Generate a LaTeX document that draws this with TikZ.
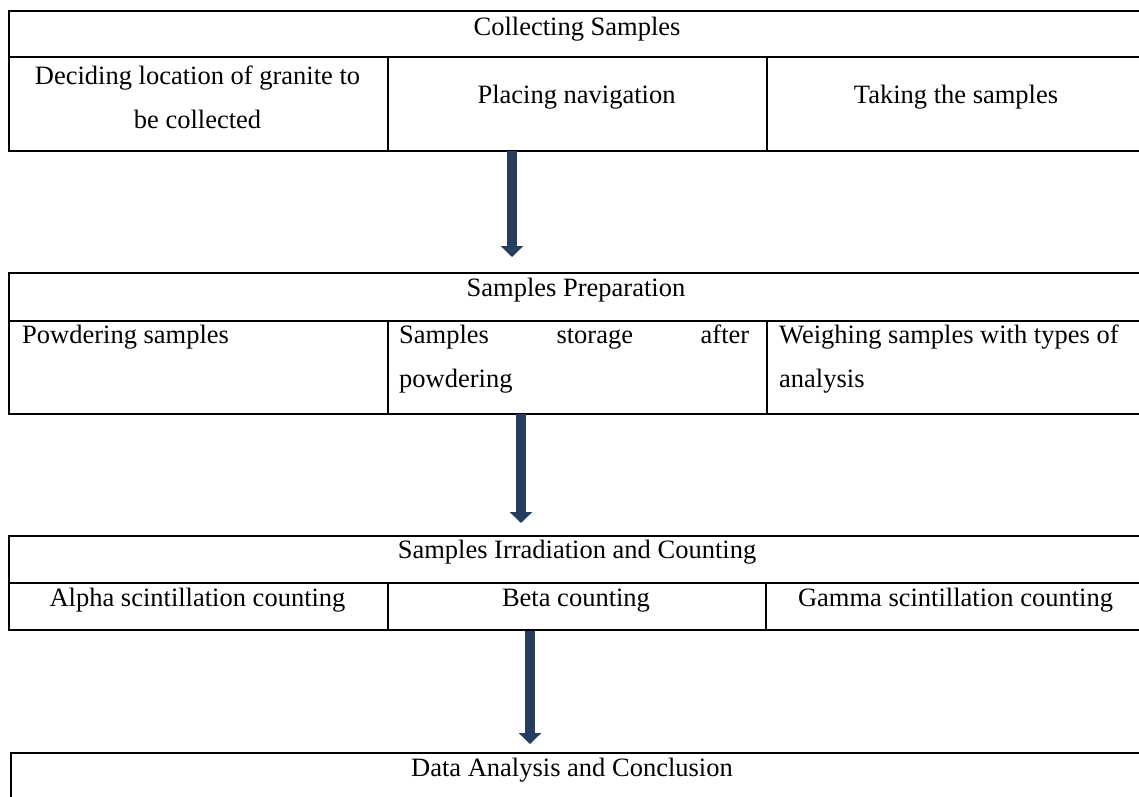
\documentclass[tikz,border=0pt]{standalone}
\usepackage{fontspec}
\setmainfont{Liberation Serif}
\usetikzlibrary{arrows.meta}
\definecolor{arrowblue}{RGB}{37,61,94}
\tikzset{
  cell/.style={draw=black, line width=1.8pt, inner sep=0pt, anchor=north west},
  txt/.style={inner sep=0pt, anchor=base, font=\fontsize{26.5}{44}\selectfont},
  txtl/.style={txt, anchor=base west},
  flowarrow/.style={draw=arrowblue, line width=10.5pt, -{Triangle[width=22pt,length=11pt]}, arrowblue}
}
\begin{document}
\begin{tikzpicture}[x=1pt,y=-1pt]
\useasboundingbox (0,0) rectangle (1139,796);
% Table 1
\node[cell, minimum width=1138pt, minimum height=46pt] (t1h) at (8,10) {};
\node[cell, minimum width=379pt, minimum height=94pt] (t1a) at (8,56) {};
\node[cell, minimum width=379pt, minimum height=94pt] (t1b) at (387,56) {};
\node[cell, minimum width=380pt, minimum height=94pt] (t1c) at (766,56) {};
\node[txt] (t1ht) at (577,35) {Collecting Samples};
\node[txt] (t1at1) at (197.5,84) {Deciding location of granite to};
\node[txt] (t1at2) at (197.5,128) {be collected};
\node[txt] (t1bt) at (576.5,103) {Placing navigation};
\node[txt] (t1ct) at (956,103) {Taking the samples};
% Table 2
\node[cell, minimum width=1138pt, minimum height=48pt] (t2h) at (8,272) {};
\node[cell, minimum width=379pt, minimum height=93pt] (t2a) at (8,320) {};
\node[cell, minimum width=379pt, minimum height=93pt] (t2b) at (387,320) {};
\node[cell, minimum width=380pt, minimum height=93pt] (t2c) at (766,320) {};
\node[txt] (t2ht) at (576,296) {Samples Preparation};
\node[txtl] (t2at) at (22,343) {Powdering samples};
\node[txtl] (t2bt1) at (399,343) {\hbox to 350pt{Samples\hfill storage\hfill after}};
\node[txtl] (t2bt2) at (399,387) {powdering};
\node[txtl] (t2ct1) at (779,343) {Weighing samples with types of};
\node[txtl] (t2ct2) at (779,387) {analysis};
% Table 3
\node[cell, minimum width=1138pt, minimum height=47pt] (t3h) at (8,535) {};
\node[cell, minimum width=379pt, minimum height=47pt] (t3a) at (8,582) {};
\node[cell, minimum width=378pt, minimum height=47pt] (t3b) at (387,582) {};
\node[cell, minimum width=381pt, minimum height=47pt] (t3c) at (765,582) {};
\node[txt] (t3ht) at (577,558) {Samples Irradiation and Counting};
\node[txt] (t3at) at (197.5,606) {Alpha scintillation counting};
\node[txt] (t3bt) at (576,606) {Beta counting};
\node[txt] (t3ct) at (955.5,606) {Gamma scintillation counting};
% Table 4
\node[cell, minimum width=1150pt, minimum height=80pt] (t4) at (10,752) {};
\node[txt] (t4t) at (572,776) {Data Analysis and Conclusion};
% Arrows
\coordinate (a1s) at (512,151);
\coordinate (a1e) at (512,257);
\coordinate (a2s) at (521,414);
\coordinate (a2e) at (521,523);
\coordinate (a3s) at (530,631);
\coordinate (a3e) at (530,744);
\draw[flowarrow] (a1s) -- (a1e);
\draw[flowarrow] (a2s) -- (a2e);
\draw[flowarrow] (a3s) -- (a3e);
\end{tikzpicture}
\end{document}
